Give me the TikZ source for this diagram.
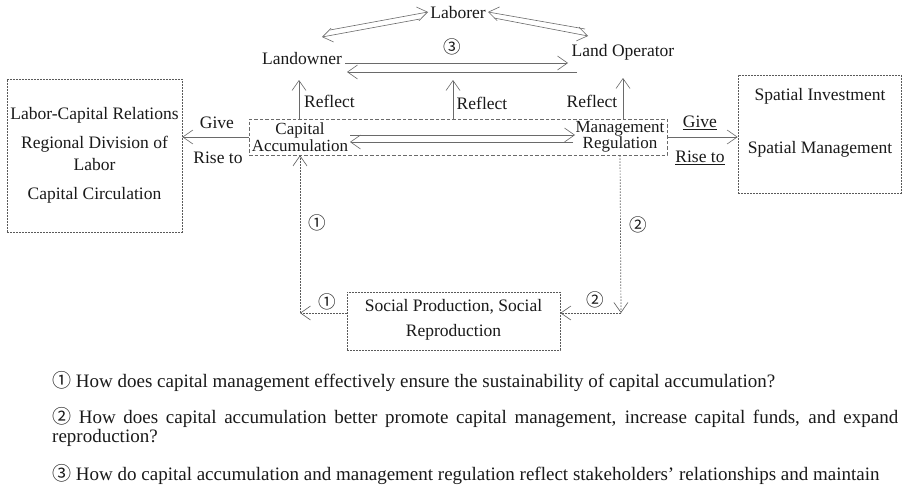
\documentclass[tikz,border=0pt]{standalone}
\usepackage{fontspec}
\setmainfont{Liberation Serif}
\newfontfamily\cnumfont{Noto Sans CJK SC}
\usetikzlibrary{arrows.meta}
\newcommand{\cnum}[1]{{\cnumfont\ifcase#1\or ①\or ②\or ③\fi}}
\definecolor{inkline}{HTML}{6A6A6A}
\definecolor{inkdot}{HTML}{5A5A5A}
\definecolor{inktext}{HTML}{1A1A1A}
\tikzset{
  lbl/.style={font=\fontsize{17.5}{15}\selectfont, text=inktext, inner sep=0pt},
  small/.style={font=\fontsize{17}{15}\selectfont, text=inktext, inner sep=0pt, align=center},
  qtxt/.style={font=\fontsize{19}{21}\selectfont, text=inktext, inner sep=0pt, anchor=base west},
  tip/.style={-{Straight Barb[length=10pt,width=14pt,line width=0.6pt]}},
  arr/.style={draw=inkline, line width=0.6pt, tip},
  dotarr/.style={draw=inkdot, line width=0.7pt, dash pattern=on 1.6pt off 1.4pt, tip},
  dashbox/.style={draw=inkline, line width=0.7pt, dash pattern=on 3.5pt off 2pt, inner sep=0pt},
  dotbox/.style={draw=inkdot, line width=0.7pt, dash pattern=on 1.6pt off 1.4pt, inner sep=0pt},
}
\begin{document}
\begin{tikzpicture}[x=1pt, y=-1pt]
\useasboundingbox[fill=white] (0,0) rectangle (902,495);

% stakeholders
\node[lbl, anchor=base] (lab)  at (458,19) {Laborer};
\node[lbl, anchor=base] (lown) at (302,65) {Landowner};
\node[lbl, anchor=base] (lop)  at (623,57) {Land Operator};
\node[lbl] (c3) at (452,47) {\cnum{3}};

% central box
\node[dashbox, minimum width=418pt, minimum height=36pt] (mid) at (458,137) {};
\node[small] (ca) at (300,137) {Capital\\Accumulation};
\node[small] (mr) at (620,137) {Management\\Regulation};

% side boxes
\node[dotbox, minimum width=175pt, minimum height=153pt] (lbox) at (94.5,155.5) {};
\node[lbl, anchor=base] (t1) at (94.5,119) {Labor-Capital Relations};
\node[lbl, anchor=base] (t2) at (94.5,148) {Regional Division of};
\node[lbl, anchor=base] (t3) at (94.5,170) {Labor};
\node[lbl, anchor=base] (t4) at (94.5,199) {Capital Circulation};

\node[dotbox, minimum width=163pt, minimum height=118pt] (rbox) at (819.5,134) {};
\node[lbl, anchor=base] (s1) at (820,100) {Spatial Investment};
\node[lbl, anchor=base] (s2) at (820,153) {Spatial Management};

% bottom box
\node[dotbox, minimum width=213pt, minimum height=58pt] (soc) at (453.5,321) {};
\node[lbl, anchor=base] (p1) at (453.5,311) {Social Production, Social};
\node[lbl, anchor=base] (p2) at (453.5,336) {Reproduction};

% labels on connectors
\node[lbl] (g1) at (217,123) {Give};
\node[lbl] (r1) at (218,158) {Rise to};
\node[lbl] (g2) at (700,123) {\underline{Give}};
\node[lbl] (r2) at (700,158) {\underline{Rise to}};
\node[lbl, anchor=base west] (f1) at (304,107) {Reflect};
\node[lbl, anchor=base] (f2) at (482,109) {Reflect};
\node[lbl, anchor=base] (f3) at (592,107) {Reflect};
\node[lbl] (n1a) at (317,223) {\cnum{1}};
\node[lbl] (n1b) at (327,302) {\cnum{1}};
\node[lbl] (n2a) at (638,225) {\cnum{2}};
\node[lbl] (n2b) at (595,300) {\cnum{2}};

% connector end points
\coordinate (la1) at (330,30);  \coordinate (la2) at (428,12);
\coordinate (lb1) at (420,19);  \coordinate (lb2) at (322,37);
\coordinate (ra1) at (585,29);  \coordinate (ra2) at (488,12);
\coordinate (rb1) at (494,18);  \coordinate (rb2) at (588,36);
\coordinate (h1a) at (345,63);  \coordinate (h1b) at (568,63);
\coordinate (h2a) at (577,72);  \coordinate (h2b) at (347,72);
\coordinate (m1a) at (350,135); \coordinate (m1b) at (575,135);
\coordinate (m2a) at (573,142); \coordinate (m2b) at (350,142);
\coordinate (u1) at (299,80);
\coordinate (u2) at (453,80);
\coordinate (u3) at (623,78);
\coordinate (k1) at (300,313);
\coordinate (k2) at (621,313);

% paired arrows between stakeholders
\draw[arr] (la1) -- (la2);
\draw[arr] (lb1) -- (lb2);
\draw[arr] (ra1) -- (ra2);
\draw[arr] (rb1) -- (rb2);
\draw[arr] (h1a) -- (h1b);
\draw[arr] (h2a) -- (h2b);
\draw[arr] (m1a) -- (m1b);
\draw[arr] (m2a) -- (m2b);

% reflect arrows
\draw[arr] (u1 |- mid.north) -- (u1);
\draw[arr] (u2 |- mid.north) -- (u2);
\draw[arr] (u3 |- mid.north) -- (u3);

% give / rise to
\draw[arr] (mid.west) -- (lbox.east |- mid.west);
\draw[arr] (mid.east) -- (rbox.west |- mid.east);

% feedback through social (re)production
\draw[dotarr] (k1) -- (ca |- mid.south);
\draw[dotarr] (soc.west |- k1) -- (k1);
\draw[dotarr] (mr |- mid.south) -- (k2);
\draw[dotarr] (k2) -- (soc.east |- k2);

% questions
\node[qtxt] (q1) at (52,387) {\cnum{1} How does capital management effectively ensure the sustainability of capital accumulation?};
\node[qtxt] (q2) at (52,423) {\makebox[846pt][s]{\cnum{2} How does capital accumulation better promote capital management, increase capital funds, and expand}};
\node[qtxt] (q3) at (52,442) {reproduction?};
\node[qtxt] (q4) at (52,480) {\cnum{3} How do capital accumulation and management regulation reflect stakeholders’ relationships and maintain};
\end{tikzpicture}
\end{document}
